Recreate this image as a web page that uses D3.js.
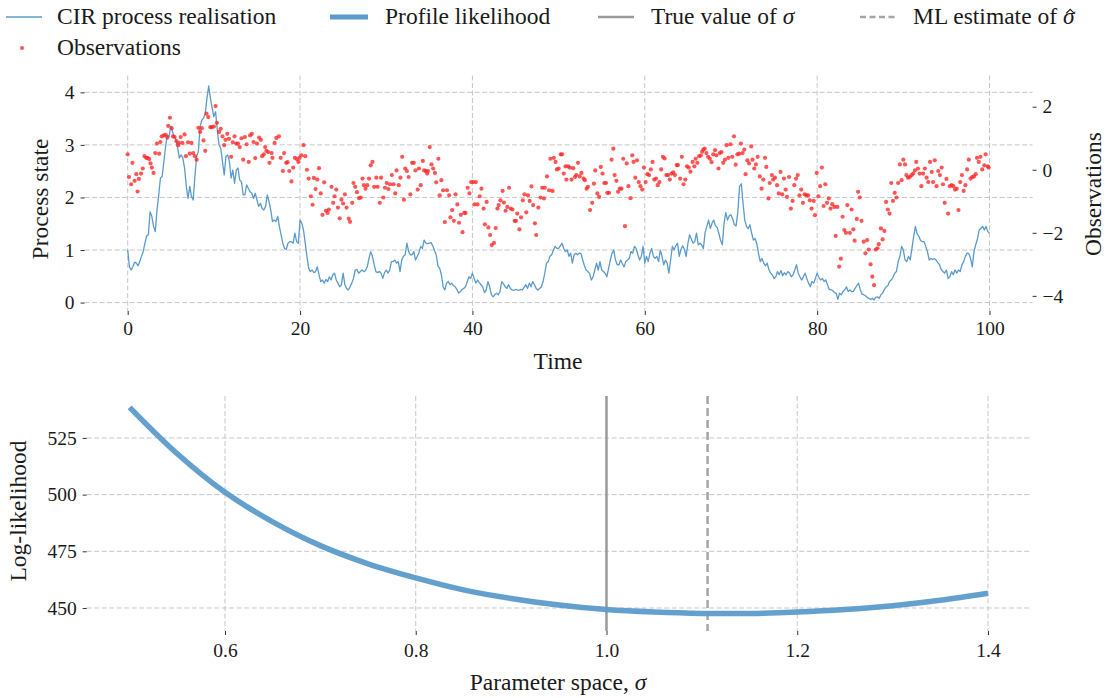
<!DOCTYPE html>
<html><head><meta charset="utf-8">
<script src="https://cdn.jsdelivr.net/npm/d3@7"></script>
<style>
body{margin:0;background:#fff}
svg{display:block}
text{font-family:"Liberation Serif","DejaVu Serif",serif;fill:#1a1a1a}
</style>
</head><body>
<svg id="chart" width="1112" height="698"></svg>
<script>
// ---------------- DATA ----------------
const cirDt = 0.2; // sampling interval of the realisation (time units)
const cirValues = [
1.00,0.68,0.62,0.68,0.77,0.75,0.70,0.78,0.88,0.97,
1.13,1.27,1.29,1.73,1.64,1.45,1.35,1.76,2.05,2.37,
2.40,2.68,2.97,3.19,3.16,3.35,3.25,3.16,3.09,2.94,
2.75,2.81,2.75,2.56,2.21,1.98,2.21,2.02,1.95,2.40,
2.78,2.87,3.35,3.47,3.51,3.60,3.89,4.12,3.89,3.70,
3.54,3.63,3.28,3.00,2.94,2.68,2.43,2.78,2.81,2.68,
2.37,2.52,2.27,2.52,2.56,2.33,2.30,2.05,2.05,2.24,
2.17,2.11,2.08,1.98,2.08,1.95,1.83,1.89,1.79,1.76,
1.83,2.05,1.92,1.76,1.54,1.57,1.54,1.64,1.45,1.29,
1.13,1.03,1.01,1.13,1.16,1.16,1.13,1.32,1.16,1.13,
1.57,1.51,1.38,1.13,0.88,0.65,0.59,0.62,0.57,0.59,
0.68,0.53,0.40,0.43,0.37,0.44,0.40,0.49,0.43,0.53,
0.56,0.43,0.37,0.30,0.34,0.56,0.34,0.27,0.24,0.30,
0.37,0.46,0.62,0.63,0.56,0.59,0.62,0.59,0.61,0.68,
0.84,0.97,0.88,0.72,0.59,0.57,0.59,0.56,0.46,0.57,
0.62,0.56,0.62,0.78,0.78,0.81,0.75,0.78,0.59,0.81,
0.88,0.91,1.13,0.97,0.91,0.91,0.97,0.81,0.88,0.95,
1.07,1.03,1.19,1.13,1.12,1.13,1.14,1.08,0.99,0.91,
0.70,0.65,0.53,0.30,0.24,0.37,0.40,0.34,0.37,0.32,
0.30,0.25,0.18,0.21,0.25,0.27,0.30,0.40,0.49,0.46,
0.56,0.46,0.37,0.43,0.38,0.34,0.30,0.19,0.24,0.40,
0.30,0.15,0.11,0.15,0.18,0.15,0.21,0.40,0.36,0.30,
0.27,0.34,0.27,0.24,0.23,0.25,0.24,0.23,0.25,0.24,
0.29,0.34,0.27,0.37,0.30,0.40,0.34,0.27,0.24,0.27,
0.30,0.40,0.56,0.75,0.78,0.88,0.91,1.00,1.07,1.03,
1.03,1.08,1.13,1.03,0.97,1.00,0.88,0.94,0.75,0.91,
0.94,0.91,0.94,0.93,0.81,0.70,0.62,0.59,0.55,0.43,
0.49,0.62,0.75,0.62,0.78,0.62,0.59,0.56,0.49,0.65,
0.81,0.94,1.00,0.81,0.72,0.72,0.81,0.74,0.68,0.78,
0.81,0.84,0.97,0.94,1.07,1.03,0.91,0.81,0.88,1.07,
0.75,0.88,0.78,0.94,1.03,0.88,0.84,0.88,0.78,1.00,
0.88,0.72,0.81,0.75,0.56,0.81,1.07,1.00,1.08,1.13,
0.88,1.01,1.08,1.01,0.88,1.12,1.29,1.21,1.13,1.16,
1.32,1.10,1.13,1.10,1.03,1.33,1.45,1.57,1.41,1.51,
1.57,1.46,1.43,1.31,1.18,1.10,1.51,1.71,1.57,1.65,
1.67,1.59,1.48,1.46,1.73,2.21,2.26,1.89,1.57,1.45,
1.41,1.48,1.32,1.19,1.22,1.12,0.93,0.78,0.84,0.75,
0.70,0.75,0.63,0.56,0.53,0.46,0.49,0.59,0.53,0.61,
0.51,0.57,0.53,0.59,0.56,0.49,0.53,0.62,0.72,0.56,
0.49,0.43,0.49,0.56,0.46,0.37,0.30,0.40,0.37,0.46,
0.56,0.48,0.43,0.46,0.40,0.43,0.34,0.25,0.24,0.23,
0.19,0.18,0.06,0.18,0.15,0.21,0.24,0.30,0.21,0.24,
0.21,0.21,0.27,0.32,0.37,0.25,0.16,0.15,0.13,0.10,
0.08,0.06,0.08,0.05,0.10,0.11,0.08,0.15,0.18,0.25,
0.30,0.32,0.40,0.43,0.48,0.56,0.59,0.78,0.88,1.07,
1.00,0.81,0.78,0.88,0.81,1.03,1.26,1.45,1.31,1.26,
1.18,1.16,1.16,1.07,0.97,0.81,0.84,0.82,0.84,0.81,
0.76,0.72,0.63,0.59,0.56,0.62,0.46,0.49,0.59,0.53,
0.62,0.56,0.62,0.59,0.72,0.78,0.88,0.94,0.93,0.84,
0.68,0.97,1.10,1.21,1.38,1.41,1.45,1.38,1.45,1.35,
1.32];

// observations: [time, value]
const observations = [
[0,0.49],[0.15,-0.23],[0.4,-0.46],[0.55,0.22],[0.8,-0.35],[1.0,-0.14],[1.15,-0.69],[1.3,-0.29],[1.55,-0.12],[1.75,0.04],
[1.95,0.43],[2.15,0.38],[2.3,0.38],[2.5,0.34],[2.65,0.20],[2.8,0.07],[3.0,-0.10],[3.2,0.53],[3.4,0.83],[3.65,0.51],
[3.8,0.88],[3.95,1.06],[4.2,1.09],[4.4,1.11],[4.6,1.02],[4.7,1.39],[4.9,1.65],[5.1,1.32],[5.25,1.06],[5.45,1.04],
[5.65,0.91],[5.85,0.78],[5.95,0.85],[6.15,1.04],[6.35,0.85],[6.6,1.12],[6.75,0.43],[7.0,0.87],[7.2,0.51],[7.4,0.85],
[7.6,0.53],[7.8,0.43],[8.0,0.32],[8.2,1.33],[8.4,1.20],[8.6,1.32],[8.8,0.93],[9.0,0.60],[9.15,1.78],[9.35,1.67],
[9.6,1.35],[9.75,1.35],[10.0,1.37],[10.2,2.02],[10.35,1.49],[10.6,1.20],[10.8,1.30],[11.0,1.06],[11.2,0.78],[11.35,0.95],
[11.55,1.14],[11.75,0.98],[12.0,0.41],[12.2,0.87],[12.4,1.06],[12.6,0.83],[12.8,0.83],[13.0,0.72],[13.2,1.00],[13.4,0.32],
[13.6,1.04],[13.8,0.81],[14.05,0.25],[14.2,1.09],[14.4,1.14],[14.6,0.88],[14.8,0.37],[15.0,0.83],[15.25,1.02],[15.45,0.95],
[15.6,0.43],[15.8,0.49],[15.95,0.72],[16.1,0.60],
[16.3,0.56],[16.45,0.22],[16.7,0.53],[16.8,0.38],[17.05,0.85],[17.25,1.01],[17.55,1.06],[17.75,0.38],[18.0,-0.04],[18.15,0.53],
[18.4,0.22],[18.55,0.24],[18.75,-0.04],[19.0,-0.37],[19.2,0.07],[19.4,0.38],[19.65,0.34],[19.8,0.25],[19.95,0.38],[20.15,0.46],
[20.4,0.78],[20.6,0.43],[20.8,0.0],[21.0,-0.28],[21.25,-0.84],[21.45,-1.11],[21.6,-0.26],[21.8,-0.61],[22.0,-0.31],[22.2,0.05],
[22.4,-0.75],[22.6,-1.43],[22.8,-0.40],[23.0,-1.30],[23.2,-1.37],[23.35,-1.26],[23.65,-0.54],[23.85,-1.05],[24.0,-0.84],[24.2,-0.63],
[24.4,-1.20],[24.6,-1.54],[24.8,-0.95],[25.0,-1.07],[25.2,-0.78],[25.4,-1.20],[25.65,-1.55],[25.8,-1.65],[26.05,-1.05],[26.2,-0.42],
[26.4,-0.54],[26.6,-0.71],[26.85,-0.90],[27.05,-0.88],[27.25,-0.28],[27.4,-0.49],[27.6,-0.60],[27.8,-0.49],[28.0,-0.28],[28.2,0.14],
[28.4,0.25],[28.6,-0.54],[28.85,-0.25],[29.0,-0.54],[29.25,-1.05],[29.4,-0.25],[29.65,-0.88],[29.85,-0.57],[30.05,-0.42],[30.25,-0.61],
[30.45,-0.46],[30.65,-0.17],[30.85,-0.46],[31.05,-0.75],[31.2,-0.02],[31.45,-0.49],[31.65,-0.25],[31.85,0.41],[32.05,-0.95],[32.2,0.04],
[32.4,-0.04],[32.6,-0.23],[32.8,-0.78],[33.0,0.22],
[33.2,0.22],[33.4,-0.02],[33.65,-0.63],[33.8,0.04],[34.0,-0.49],[34.25,0.28],[34.4,-0.02],[34.6,-0.04],[34.75,-0.12],[34.85,-0.04],
[35.05,0.72],[35.25,0.17],[35.45,0.04],[35.65,-0.10],[35.8,-0.40],[36.05,0.35],[36.2,-0.81],[36.4,-0.33],[36.6,-0.65],[36.8,-1.66],
[37.05,-0.65],[37.3,-0.81],[37.45,-1.51],[37.65,-1.28],[37.85,-1.62],[38.05,-0.78],[38.25,-1.10],[38.45,-1.68],[38.65,-1.43],[38.85,-1.98],
[39.05,-1.37],[39.2,-1.37],[39.45,-0.57],[39.65,-0.75],[39.85,-0.39],[40.1,-0.39],[40.25,-1.10],[40.4,-0.39],[40.6,-1.10],[40.85,-0.84],
[41.05,-0.60],[41.3,-1.23],[41.45,-1.73],[41.65,-1.02],[41.85,-1.83],[42.05,-2.07],[42.25,-2.39],[42.5,-2.32],[42.7,-1.85],[42.9,-1.23],
[43.05,-1.12],[43.25,-0.97],[43.5,-0.67],[43.65,-1.04],[43.85,-1.30],[44.05,-1.18],[44.25,-0.57],[44.45,-1.23],[44.65,-1.26],[44.9,-1.62],
[45.05,-1.62],[45.2,-1.39],[45.45,-1.89],[45.65,-1.51],[45.85,-0.97],[46.05,-0.78],[46.25,-1.35],[46.45,-0.81],[46.65,-0.99],[46.85,-0.53],
[47.05,-1.12],[47.25,-1.70],[47.4,-2.07],[47.65,-1.20],[47.9,-0.88],[48.1,-0.57],[48.3,-0.91],[48.4,-0.57],[48.65,-0.21],[48.9,-0.65],
[49.05,0.35],[49.3,-0.67],[49.45,0.38],[49.65,0.25],[49.8,0.01],
[50.0,0.04],[50.25,0.49],[50.4,0.49],[50.6,-0.12],[50.8,0.11],[50.9,-0.31],[51.1,0.11],[51.3,0.07],[51.5,-0.31],[51.7,0.05],
[51.9,-0.23],[52.05,-0.17],[52.25,0.22],[52.45,-0.21],[52.65,-0.10],[52.9,-0.28],[53.05,-0.33],[53.25,-0.60],[53.4,-0.54],[53.65,-1.28],
[53.9,-1.05],[54.1,-0.44],[54.25,-0.02],[54.5,-0.75],[54.7,-0.86],[54.9,0.09],[55.1,-0.12],[55.3,-0.42],[55.5,-0.42],[55.65,-0.73],
[55.85,-0.73],[56.15,0.32],[56.35,0.67],[56.5,-0.17],[56.7,-0.35],[56.9,-0.70],[57.1,-0.60],[57.3,-0.60],[57.5,0.35],[57.7,-1.79],
[57.9,0.20],[58.1,-0.52],[58.35,-0.90],[58.55,0.46],[58.7,0.25],[58.9,-0.25],[59.1,0.30],[59.3,-0.39],[59.5,-0.52],[59.7,-0.63],
[59.9,0.07],[60.1,-0.39],[60.3,-0.14],[60.5,-0.17],[60.7,0.01],[60.9,0.25],[61.1,-0.31],[61.3,-0.28],[61.5,-0.49],[61.7,-0.39],
[61.9,0.01],[62.1,0.41],[62.3,0.36],[62.5,-0.17],[62.7,-0.17],[62.9,-0.31],[63.1,-0.12],[63.3,-0.08],[63.5,-0.17],[63.7,0.15],
[63.85,0.15],[64.1,-0.28],[64.3,0.41],[64.5,-0.46],[64.7,-0.31],[64.9,0.11],[65.1,0.07],[65.3,-0.06],[65.55,0.25],[65.75,0.11],
[65.9,0.35],[66.1,0.22],[66.3,0.43],[66.5,0.45],[66.65,0.57],
[66.8,0.64],[66.95,0.67],[67.15,0.53],[67.35,0.41],[67.55,0.35],[67.75,0.24],[67.95,0.49],[68.15,0.62],[68.3,0.46],[68.55,0.04],
[68.7,0.53],[68.9,0.56],[69.1,0.22],[69.3,0.32],[69.5,0.78],[69.7,0.38],[69.95,0.81],[70.15,0.41],[70.35,1.06],[70.55,0.16],
[70.75,0.49],[70.95,0.51],[71.15,0.83],[71.35,0.53],[71.55,0.64],[71.7,-0.14],[71.9,0.30],[72.1,0.20],[72.35,0.74],[72.5,0.32],
[72.7,0.04],[72.9,0.17],[73.1,0.41],[73.35,-0.21],[73.55,-0.60],[73.75,-0.31],[73.95,0.38],[74.1,0.09],[74.35,-0.91],[74.5,-0.42],
[74.75,-0.17],[74.9,-0.31],[75.1,-0.25],[75.35,-0.49],[75.55,-0.75],[75.75,-0.07],[75.95,-0.78],[76.15,-0.28],[76.35,-0.63],[76.5,-0.86],
[76.75,-0.23],[76.95,-1.23],[77.15,-0.99],[77.35,-0.49],[77.55,-0.28],[77.75,-0.17],[77.95,-0.81],[78.15,-0.63],[78.35,-1.05],[78.55,-0.78],
[78.75,-0.81],[78.95,-0.81],[79.15,-0.97],[79.35,-1.23],[79.6,-0.99],[79.75,-1.44],[79.95,-0.10],[80.15,-0.84],[80.35,-0.52],[80.55,0.07],
[80.75,-1.15],[80.95,-0.46],[81.15,-1.05],[81.35,-0.91],[81.55,-1.23],[81.75,-1.09],[82.0,-1.18],[82.15,-2.10],[82.35,-1.18],[82.55,-3.07],
[82.75,-2.82],[82.95,-1.49],[83.15,-1.91],[83.35,-2.00],[83.5,-1.12],
[83.8,-2.00],[84.0,-1.26],[84.2,-1.89],[84.35,-2.25],[84.6,-1.56],[84.75,-0.70],[84.95,-0.88],[85.15,-1.62],[85.4,-2.28],[85.6,-2.65],
[85.8,-2.23],[86.0,-2.53],[86.2,-3.00],[86.4,-3.39],[86.6,-3.66],[86.8,-2.53],[87.0,-2.49],[87.15,-2.36],[87.4,-1.86],[87.6,-2.21],
[87.8,-1.94],[88.0,-1.02],[88.2,-1.26],[88.4,-1.39],[88.6,-0.42],[88.8,-0.99],[89.0,-0.73],[89.2,-0.88],[89.4,-0.42],[89.6,0.17],
[89.8,-0.33],[90.0,0.32],[90.2,0.17],[90.35,-0.17],[90.55,-0.25],[90.75,-0.23],[90.95,-0.17],[91.15,-0.12],[91.35,-0.02],[91.5,0.25],
[91.7,0.04],[91.9,-0.12],[92.1,-0.52],[92.3,-0.12],[92.5,0.04],[92.7,-0.25],[92.9,-0.39],[93.1,0.25],[93.3,-0.07],[93.45,-0.39],
[93.65,0.30],[93.85,-0.52],[94.05,-0.04],[94.25,-0.17],[94.45,0.07],[94.6,-0.46],[94.8,-1.05],[95.0,-0.29],[95.2,-1.39],[95.4,-0.52],
[95.6,-0.49],[95.8,-0.52],[96.0,-0.63],[96.2,-0.60],[96.4,-1.28],[96.6,-0.39],[96.8,-0.17],[97.0,-0.67],[97.2,-0.49],[97.4,0.01],
[97.6,0.32],[97.8,-0.28],[98.0,-0.23],[98.2,-0.21],[98.4,-0.14],[98.55,0.38],[98.75,0.25],[98.95,0.41],[99.15,0.01],[99.4,0.14],
[99.55,0.49],[99.8,0.11],[99.9,0.07]
];

const sigmaGrid  = [0.50,0.55,0.60,0.65,0.70,0.75,0.80,0.85,0.90,0.95,1.00,1.05,1.10,1.15,1.20,1.25,1.30,1.35,1.40];
const profileLL  = [538.5,518.0,501.0,488.0,477.5,469.5,463.3,458.0,454.2,451.3,449.3,448.2,447.6,447.6,448.2,449.3,451.0,453.4,456.5];
const trueSigma = 1.0;
const mlSigma = 1.106;

const timeTicks  = [0,20,40,60,80,100];
const stateTicks = [0,1,2,3,4];
const obsTicks   = [-4,-2,0,2];
const sigmaTicks = [0.6,0.8,1.0,1.2,1.4];
const llTicks    = [450,475,500,525];

const legendLabels = ["CIR process realisation","Profile likelihood","True value of ","ML estimate of ","Observations"];

// ---------------- DRAW ----------------
const svg = d3.select("#chart");
const blue = "#5b9bcb", red = "#ff2626", grey = "#9a9a9a", gridC = "#c6c6c6";
const FONT = '"Liberation Serif","DejaVu Serif",serif';
const tickFont = 19.5, labelFont = 23.5;

const boxT = {l:84.6, r:1032.6, t:75.5, b:311};
const xT = d3.scaleLinear().domain([-5,105]).range([boxT.l, boxT.r]);
const yL = d3.scaleLinear().domain([-0.16,4.32]).range([boxT.b, boxT.t]);
const yR = d3.scaleLinear().domain([-4.48,2.99]).range([boxT.b, boxT.t]);

const boxB = {l:86.7, r:1030.9, t:396, b:631};
const xB = d3.scaleLinear().domain([0.455,1.445]).range([boxB.l, boxB.r]);
const yB = d3.scaleLinear().domain([439.85,543.5]).range([boxB.b, boxB.t]);

function grid(g, xs, xScale, ys, yScale, box){
  g.selectAll("line.gx").data(xs).join("line").attr("class","gx")
    .attr("x1",d=>xScale(d)).attr("x2",d=>xScale(d)).attr("y1",box.t).attr("y2",box.b)
    .attr("stroke",gridC).attr("stroke-width",1).attr("stroke-dasharray","5,2.5");
  g.selectAll("line.gy").data(ys).join("line").attr("class","gy")
    .attr("y1",d=>yScale(d)).attr("y2",d=>yScale(d)).attr("x1",box.l).attr("x2",box.r)
    .attr("stroke",gridC).attr("stroke-width",1).attr("stroke-dasharray","5,2.5");
}
function styleAxis(g){
  g.attr("font-family",FONT).attr("font-size",tickFont);
  g.select(".domain").remove();
  g.selectAll(".tick line").attr("stroke","#333").attr("stroke-width",1);
  g.selectAll(".tick text").attr("font-family",FONT).style("font-family",FONT)
    .style("font-size",tickFont+"px").attr("fill","#1a1a1a");
}
const fmtMinus = d => (d<0 ? "\u2212"+Math.abs(d) : ""+d);

// ---- top panel
const gTop = svg.append("g");
grid(gTop, timeTicks, xT, stateTicks, yL, boxT);
gTop.append("g").attr("transform",`translate(0,${boxT.b})`)
  .call(d3.axisBottom(xT).tickValues(timeTicks).tickFormat(d3.format("d")).tickSize(4).tickPadding(6)).call(styleAxis);
gTop.append("g").attr("transform",`translate(${boxT.l},0)`)
  .call(d3.axisLeft(yL).tickValues(stateTicks).tickFormat(d3.format("d")).tickSize(4).tickPadding(6)).call(styleAxis);
gTop.append("g").attr("transform",`translate(${boxT.r},0)`)
  .call(d3.axisRight(yR).tickValues(obsTicks).tickFormat(fmtMinus).tickSize(4).tickPadding(6)).call(styleAxis);

const cirLine = d3.line().x((d,i)=>xT(i*cirDt)).y(d=>yL(d));
gTop.append("path").datum(cirValues).attr("d",cirLine)
  .attr("fill","none").attr("stroke",blue).attr("stroke-width",1.3).attr("stroke-linejoin","round");

gTop.append("g").selectAll("circle").data(observations).join("circle")
  .attr("cx",d=>xT(d[0])).attr("cy",d=>yR(d[1])).attr("r",2.1)
  .attr("fill",red).attr("fill-opacity",0.78);

gTop.append("text").attr("transform",`translate(48,199) rotate(-90)`)
  .attr("text-anchor","middle").style("font-size",labelFont+"px").text("Process state");
gTop.append("text").attr("transform",`translate(1101,194) rotate(-90)`)
  .attr("text-anchor","middle").style("font-size",labelFont+"px").text("Observations");
gTop.append("text").attr("x",558).attr("y",369)
  .attr("text-anchor","middle").style("font-size",labelFont+"px").text("Time");

// ---- bottom panel
const gBot = svg.append("g");
grid(gBot, sigmaTicks, xB, llTicks, yB, boxB);
gBot.append("g").attr("transform",`translate(0,${boxB.b})`)
  .call(d3.axisBottom(xB).tickValues(sigmaTicks).tickFormat(d3.format(".1f")).tickSize(4).tickPadding(8)).call(styleAxis);
gBot.append("g").attr("transform",`translate(${boxB.l},0)`)
  .call(d3.axisLeft(yB).tickValues(llTicks).tickFormat(d3.format("d")).tickSize(4).tickPadding(6)).call(styleAxis);

gBot.append("line").attr("x1",xB(trueSigma)).attr("x2",xB(trueSigma)).attr("y1",boxB.t).attr("y2",boxB.b)
  .attr("stroke",grey).attr("stroke-width",2.5);
gBot.append("line").attr("x1",xB(mlSigma)).attr("x2",xB(mlSigma)).attr("y1",boxB.t).attr("y2",boxB.b)
  .attr("stroke","#a6a6a6").attr("stroke-width",2.5).attr("stroke-dasharray","8,4");

const llLine = d3.line().x((d,i)=>xB(sigmaGrid[i])).y(d=>yB(d)).curve(d3.curveCatmullRom);
gBot.append("path").datum(profileLL).attr("d",llLine)
  .attr("fill","none").attr("stroke",blue).attr("stroke-width",5.5).attr("stroke-opacity",0.95);

gBot.append("text").attr("transform",`translate(26,511) rotate(-90)`)
  .attr("text-anchor","middle").style("font-size",labelFont+"px").text("Log-likelihood");
const xl = gBot.append("text").attr("x",558).attr("y",690)
  .attr("text-anchor","middle").style("font-size",labelFont+"px");
xl.append("tspan").text("Parameter space, ");
xl.append("tspan").style("font-style","italic").text("\u03c3");

// ---- legend
const lg = svg.append("g").style("font-size",labelFont+"px");
const row1 = 17, row2 = 48;
lg.append("line").attr("x1",6).attr("x2",42).attr("y1",row1).attr("y2",row1).attr("stroke",blue).attr("stroke-width",1.3);
lg.append("text").attr("x",57).attr("y",row1+7).text(legendLabels[0]);
lg.append("line").attr("x1",330).attr("x2",368).attr("y1",row1).attr("y2",row1).attr("stroke",blue).attr("stroke-width",5);
lg.append("text").attr("x",385).attr("y",row1+7).text(legendLabels[1]);
lg.append("line").attr("x1",598).attr("x2",634).attr("y1",row1).attr("y2",row1).attr("stroke",grey).attr("stroke-width",2.5);
const t3 = lg.append("text").attr("x",651).attr("y",row1+7);
t3.append("tspan").text(legendLabels[2]);
t3.append("tspan").style("font-style","italic").text("\u03c3");
lg.append("line").attr("x1",860).attr("x2",896).attr("y1",row1).attr("y2",row1).attr("stroke","#a6a6a6").attr("stroke-width",2.5).attr("stroke-dasharray","6,3.5");
const t4 = lg.append("text").attr("x",913).attr("y",row1+7);
t4.append("tspan").text(legendLabels[3]);
t4.append("tspan").style("font-style","italic").text("\u03c3");
// hat accent drawn as a small stroke above the sigma
{
  const node = t4.node();
  const n = node.getNumberOfChars();
  const ext = node.getExtentOfChar(n-1);
  const cx = ext.x + ext.width/2 + 1.5, yTop = ext.y + ext.height*0.28;
  lg.append("path").attr("d",`M${cx-4},${yTop+3} L${cx},${yTop-1} L${cx+4},${yTop+3}`)
    .attr("fill","none").attr("stroke","#1a1a1a").attr("stroke-width",1.1);
}
lg.append("circle").attr("cx",22).attr("cy",row2).attr("r",2.1).attr("fill",red).attr("fill-opacity",0.78);
lg.append("text").attr("x",57).attr("y",row2+7).text(legendLabels[4]);
</script>
</body></html>
